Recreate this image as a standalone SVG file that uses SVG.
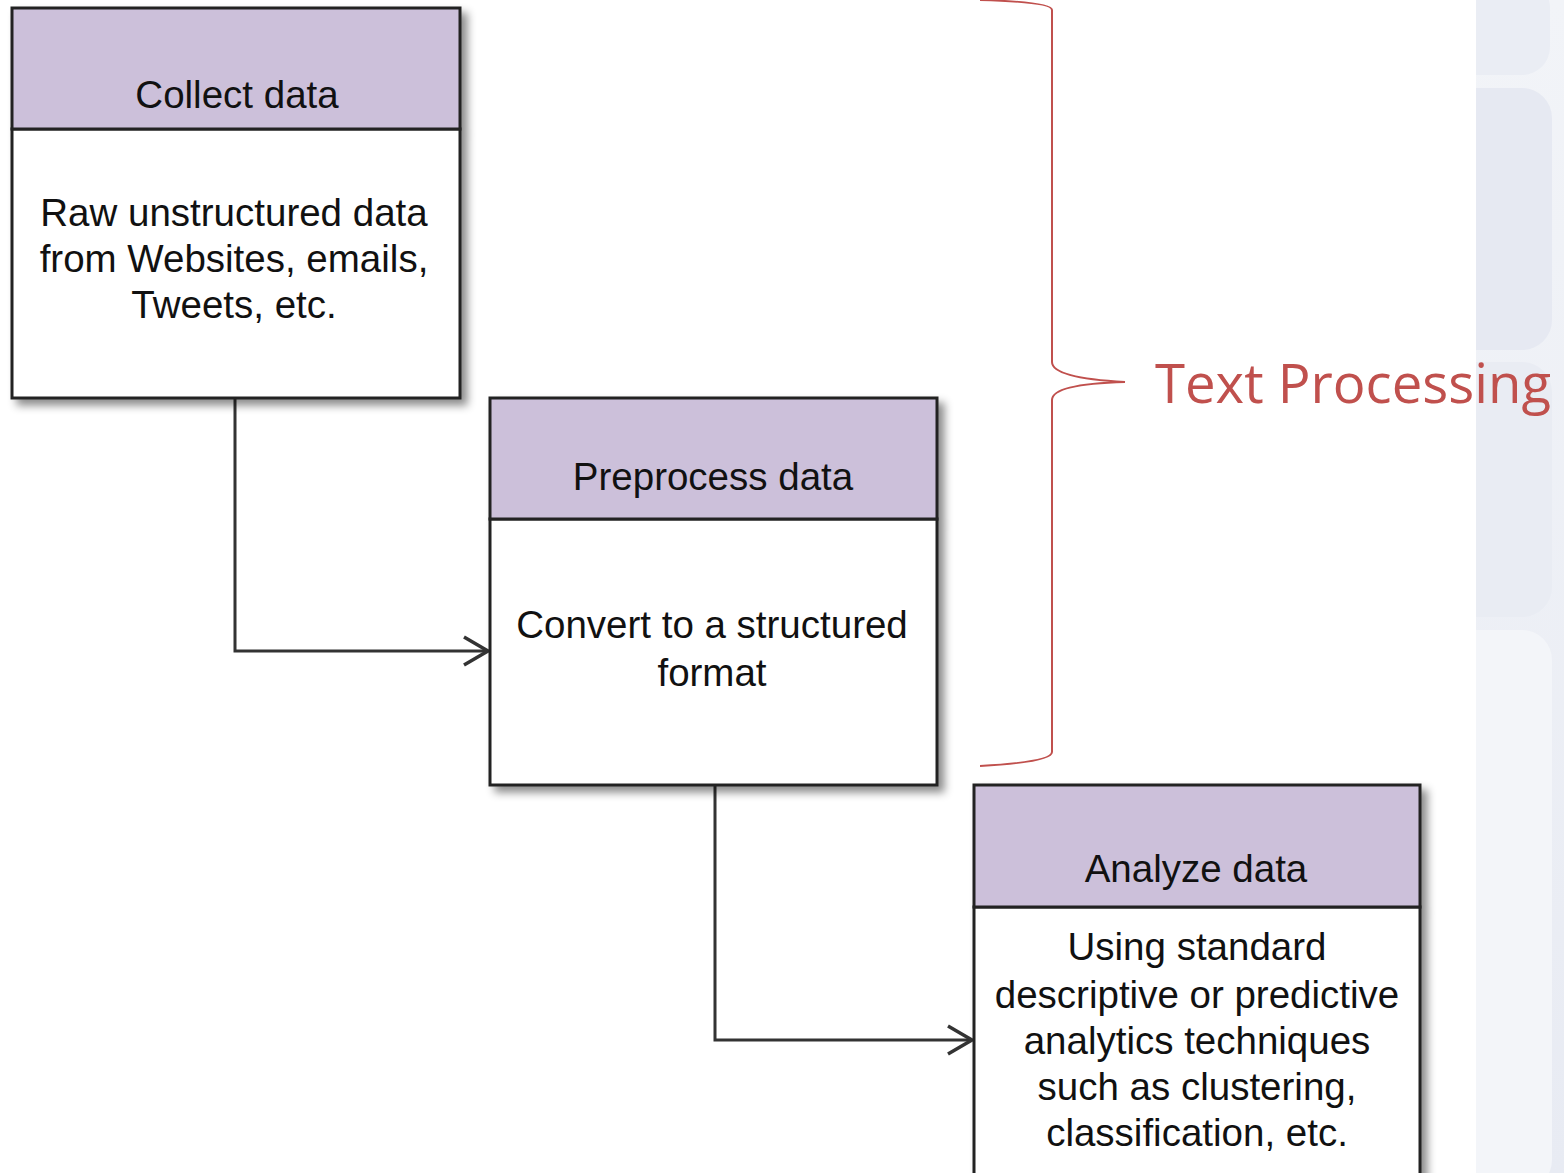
<svg xmlns="http://www.w3.org/2000/svg" width="1564" height="1173" viewBox="0 0 1564 1173">
<style>
.hdr{fill:#ccc0da;stroke:#222;stroke-width:3}
.body{fill:#fff;stroke:#222;stroke-width:3}
.t{font-family:"Liberation Sans",Arial,sans-serif;font-size:38.5px;fill:#111;text-anchor:middle}
.conn{fill:none;stroke:#333;stroke-width:3}
.brace{fill:none;stroke:#c0504d;stroke-width:2}
</style>
<defs>
<filter id="sh" x="-10%" y="-10%" width="130%" height="130%">
<feDropShadow dx="6" dy="6" stdDeviation="4" flood-color="#000" flood-opacity="0.45"/>
</filter>
<marker id="arr" markerWidth="30" markerHeight="32" refX="26" refY="16" orient="auto" markerUnits="userSpaceOnUse" viewBox="0 0 30 32">
<path d="M2,2 L26,16 L2,30" fill="none" stroke="#333" stroke-width="3.5"/>
</marker>
<linearGradient id="bg" x1="0" y1="0" x2="0" y2="1">
<stop offset="0" stop-color="#f2f4f8"/>
<stop offset="1" stop-color="#e8ebf3"/>
</linearGradient>
</defs>
<rect width="1564" height="1173" fill="#fff"/>
<g id="side">
<rect x="1476" y="0" width="88" height="1173" fill="url(#bg)"/>
<rect x="1440" y="-20" width="110" height="95" rx="28" fill="#eaedf4"/>
<rect x="1440" y="88" width="112" height="262" rx="30" fill="#e6e9f2"/>
<rect x="1440" y="362" width="112" height="255" rx="30" fill="#e9ecf3"/>
<rect x="1440" y="630" width="112" height="560" rx="30" fill="#f3f5f9"/>
<rect x="1440" y="0" width="36" height="1173" fill="#fff"/>
</g>
<g id="connectors">
<path class="conn" d="M235,398 V651 H488" marker-end="url(#arr)"/>
<path class="conn" d="M715,785 V1040 H972" marker-end="url(#arr)"/>
</g>
<g id="collect">
<g filter="url(#sh)">
<rect class="body" x="12" y="129" width="448" height="269"/>
<rect class="hdr" x="12" y="8" width="448" height="121"/>
</g>
<text class="t" x="237" y="108">Collect data</text>
<text class="t" x="234" y="226">Raw unstructured data</text>
<text class="t" x="234" y="272">from Websites, emails,</text>
<text class="t" x="234" y="318">Tweets, etc.</text>
</g>
<g id="preprocess">
<g filter="url(#sh)">
<rect class="body" x="490" y="519" width="447" height="266"/>
<rect class="hdr" x="490" y="398" width="447" height="121"/>
</g>
<text class="t" x="713" y="490">Preprocess data</text>
<text class="t" x="712" y="638">Convert to a structured</text>
<text class="t" x="712" y="686">format</text>
</g>
<g id="analyze">
<g filter="url(#sh)">
<rect class="body" x="974" y="907" width="446" height="280"/>
<rect class="hdr" x="974" y="785" width="446" height="122"/>
</g>
<text class="t" x="1196" y="882">Analyze data</text>
<text class="t" x="1197" y="960">Using standard</text>
<text class="t" x="1197" y="1008">descriptive or predictive</text>
<text class="t" x="1197" y="1054">analytics techniques</text>
<text class="t" x="1197" y="1100">such as clustering,</text>
<text class="t" x="1197" y="1146">classification, etc.</text>
</g>
<g id="textproc">
<path class="brace" d="M980,0 Q1052,2 1052,10 V362 Q1052,378 1125,382 Q1052,384 1052,400 V752 Q1052,762 980,766"/>
<text x="1155" y="403" font-family="'Open Sans','Noto Sans',sans-serif" font-size="54.5" fill="#c0504d">Text Processing</text>
</g>
</svg>
